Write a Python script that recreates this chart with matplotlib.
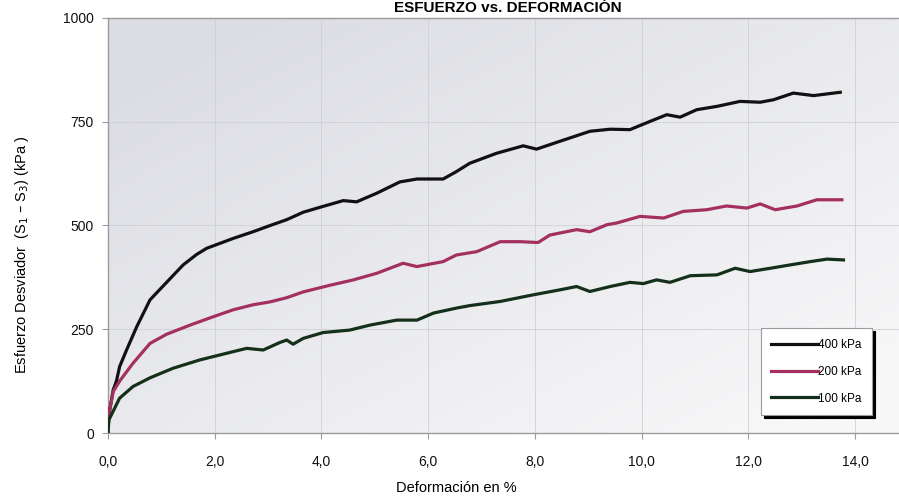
import numpy as np
import matplotlib
matplotlib.use('Agg')
import matplotlib.pyplot as plt
from matplotlib.ticker import FuncFormatter

plt.rcParams['font.family'] = ['Liberation Sans', 'DejaVu Sans']

# deformacion (%) / esfuerzo desviador (kPa) para cada presion de confinamiento
def_400 = [0.0, 0.02, 0.10, 0.16, 0.22, 0.35, 0.54, 0.79, 1.10, 1.41, 1.66, 1.85, 2.35, 2.72, 3.04,
           3.35, 3.66, 4.03, 4.41, 4.66, 5.04, 5.47, 5.79, 6.28, 6.53, 6.78, 7.28, 7.78, 8.03, 8.47,
           9.03, 9.41, 9.78, 10.16, 10.47, 10.72, 11.03, 11.41, 11.84, 12.22, 12.47, 12.84, 13.22, 13.72]
esf_400 = [0, 45, 104, 125, 160, 200, 256, 321, 363, 405, 430, 445, 469, 485, 500,
           514, 532, 546, 560, 557, 578, 605, 612, 612, 630, 650, 674, 692, 684, 703,
           727, 732, 731, 751, 767, 761, 779, 787, 799, 797, 803, 819, 813, 821]

def_200 = [0.0, 0.02, 0.10, 0.22, 0.47, 0.79, 1.10, 1.54, 1.97, 2.35, 2.72, 3.04, 3.35, 3.66, 4.16,
           4.60, 5.04, 5.53, 5.79, 6.28, 6.53, 6.91, 7.35, 7.72, 8.06, 8.28, 8.78, 9.03, 9.35, 9.53,
           9.97, 10.41, 10.78, 11.22, 11.59, 11.97, 12.22, 12.50, 12.91, 13.28, 13.75]
esf_200 = [0, 45, 100, 125, 168, 216, 238, 260, 280, 297, 309, 316, 326, 340, 356,
           369, 385, 409, 401, 413, 429, 437, 461, 461, 459, 477, 490, 485, 502, 506,
           522, 518, 534, 538, 547, 542, 552, 538, 547, 562, 562]

def_100 = [0.0, 0.02, 0.22, 0.47, 0.79, 1.22, 1.72, 2.22, 2.60, 2.91, 3.22, 3.35, 3.47, 3.66, 4.03,
           4.53, 4.91, 5.41, 5.79, 6.10, 6.53, 6.78, 7.35, 7.97, 8.47, 8.78, 9.03, 9.41, 9.78, 10.03,
           10.28, 10.53, 10.91, 11.41, 11.75, 12.03, 12.41, 12.78, 13.16, 13.47, 13.78]
esf_100 = [0, 32, 84, 112, 133, 156, 176, 192, 204, 200, 218, 224, 214, 228, 242,
           248, 260, 272, 272, 289, 301, 307, 317, 333, 345, 353, 341, 353, 363, 360,
           369, 363, 379, 381, 397, 389, 397, 405, 413, 419, 417]

series = [('400 kPa', def_400, esf_400, '#111111'),
          ('200 kPa', def_200, esf_200, '#a3305e'),
          ('100 kPa', def_100, esf_100, '#15301a')]

fig = plt.figure(figsize=(8.99, 4.98), dpi=100)
ax = fig.add_axes([0.120, 0.1305, 0.880, 0.8334])

# fondo degradado: gris claro arriba a la izquierda, casi blanco abajo a la derecha
gx, gy = np.meshgrid(np.linspace(0, 1, 200), np.linspace(1, 0, 200))
grad = np.clip(0.6 * (1 - gx) + 0.6 * gy - 0.1, 0, 1)
ax.imshow(grad, cmap=matplotlib.colors.LinearSegmentedColormap.from_list('bg', ['#f7f7f8', '#dcdde3']),
          extent=[0, 1, 0, 1], transform=ax.transAxes, aspect='auto', zorder=0, vmin=0, vmax=1)

ax.set_xlim(0, 14.82)
ax.set_ylim(0, 1000)
ax.set_xticks(np.arange(0, 15, 2))
ax.set_yticks([0, 250, 500, 750, 1000])
ax.xaxis.set_major_formatter(FuncFormatter(lambda v, p: f'{v:.1f}'.replace('.', ',')))
ax.grid(True, color='#cfd0d6', lw=0.6, zorder=1)

for name, d, e, c in series:
    ax.plot(d, e, color=c, lw=2.3, label=name, zorder=3, solid_joinstyle='round')

ax.spines['right'].set_visible(False)
for s in ['left', 'bottom', 'top']:
    ax.spines[s].set_color('#9a9aa0')
    ax.spines[s].set_linewidth(1.0)

ax.tick_params(axis='both', labelsize=10, colors='#9a9aa0', labelcolor='#111111', length=4, direction='out')
ax.tick_params(axis='x', pad=12)
ax.tick_params(axis='y', pad=6)

ax.set_xlabel('Deformación en %', fontsize=10.5)
ax.xaxis.set_label_coords(0.44, -0.115)
ax.set_ylabel('Esfuerzo Desviador  (S$_1$ – S$_3$) (kPa )', fontsize=10.5)
ax.yaxis.set_label_coords(-0.097, 0.43)

fig.text(0.565, 0.998, 'ESFUERZO vs. DEFORMACIÓN', ha='center', va='top',
         fontsize=11, fontweight='bold')

leg = ax.legend(loc='lower right', bbox_to_anchor=(0.966, 0.043), fontsize=8.5, handlelength=3.9,
                handletextpad=0.05, labelspacing=1.25, borderpad=0.9, borderaxespad=0,
                fancybox=False, shadow={'color': 'black', 'alpha': 1.0}, framealpha=1)
leg.get_frame().set_edgecolor('#9a9aa0')
leg.get_frame().set_linewidth(0.8)

fig.savefig('out.png', dpi=100)
